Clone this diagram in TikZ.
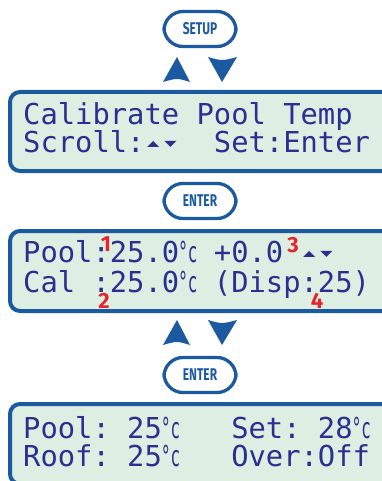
\documentclass[tikz,border=0pt]{standalone}
\usepackage{fontspec}
\setmonofont{DejaVu Sans Mono}
\newfontfamily\symfont{DejaVu Sans}
\newfontfamily\keyfont{Fira Sans}
\usepackage{graphicx}

\definecolor{keyblue}{HTML}{1B5AA0}
\definecolor{lcdfill}{HTML}{DDEEE2}
\definecolor{lcdtext}{HTML}{2B3090}
\definecolor{marker}{HTML}{E3262D}

\newcommand{\degc}{\makebox[0.602em][c]{\scalebox{0.55}[1]{°c}}}
\newcommand{\upd}{\makebox[0.602em][c]{\raisebox{6pt}{\symfont\fontsize{16}{16}\selectfont\scalebox{1}[0.5]{▲}}}}
\newcommand{\dnd}{\makebox[0.602em][c]{\raisebox{6pt}{\symfont\fontsize{16}{16}\selectfont\scalebox{1}[0.5]{▼}}}}

\tikzset{
  key/.style={draw=keyblue, line width=3.3pt, rounded corners=19pt, minimum width=72pt,
    minimum height=35pt, inner sep=0pt, text=keyblue,
    font=\keyfont\bfseries\fontsize{17}{17}\selectfont},
  lcd/.style={draw=keyblue, fill=lcdfill, line width=4pt, rounded corners=10pt},
  lcdline/.style={anchor=base west, inner sep=0pt, text=lcdtext,
    font=\ttfamily\fontsize{28.8}{30}\selectfont},
  num/.style={inner sep=0pt, text=marker, font=\keyfont\bfseries\fontsize{22}{22}\selectfont}
}

\begin{document}
\begin{tikzpicture}[x=1pt, y=-1pt]
\useasboundingbox (0,0) rectangle (382,481);
\clip (0,0) rectangle (382,481);

% keys
\node[key] (setup) at (200,29) {\scalebox{0.7}[1]{SETUP}};
\node[key] (enterA) at (200,201) {\scalebox{0.7}[1]{ENTER}};
\node[key] (enterB) at (200,375) {\scalebox{0.7}[1]{ENTER}};

% up / down arrows
\foreach \cy in {70,333} {
 \fill[keyblue] (163,\cy+12) -- (177,\cy-13) -- (190,\cy+12) .. controls (177,\cy+8) .. cycle;
 \fill[keyblue] (208,\cy-13) .. controls (222,\cy-9) .. (237,\cy-13) -- (222,\cy+12) -- cycle;
}

% display 1
\draw[lcd] (10,92) rectangle (400,171);
\node[lcdline] (calA) at (23,125) {Calibrate Pool Temp};
\node[lcdline] (calB) at (23,153) {Scroll:\upd\dnd~~Set:Enter};

% display 2
\draw[lcd] (10,231) rectangle (400,311);
\node[lcdline] (adjA) at (23,262) {Pool:25.0\degc~+0.0~\upd\dnd};
\node[lcdline] (adjB) at (23,292) {Cal~:25.0\degc~(Disp:25)};
\node[num] (n1) at (106,244) {1};
\node[num] (n2) at (104,301) {2};
\node[num] (n3) at (293,245) {3};
\node[num] (n4) at (317,301) {4};

% display 3
\draw[lcd] (10,404) rectangle (400,484);
\node[lcdline] (runA) at (23,438) {Pool:~25\degc~~~Set:~28\degc};
\node[lcdline] (runB) at (23,466) {Roof:~25\degc~~~Over:Off};
\end{tikzpicture}
\end{document}
